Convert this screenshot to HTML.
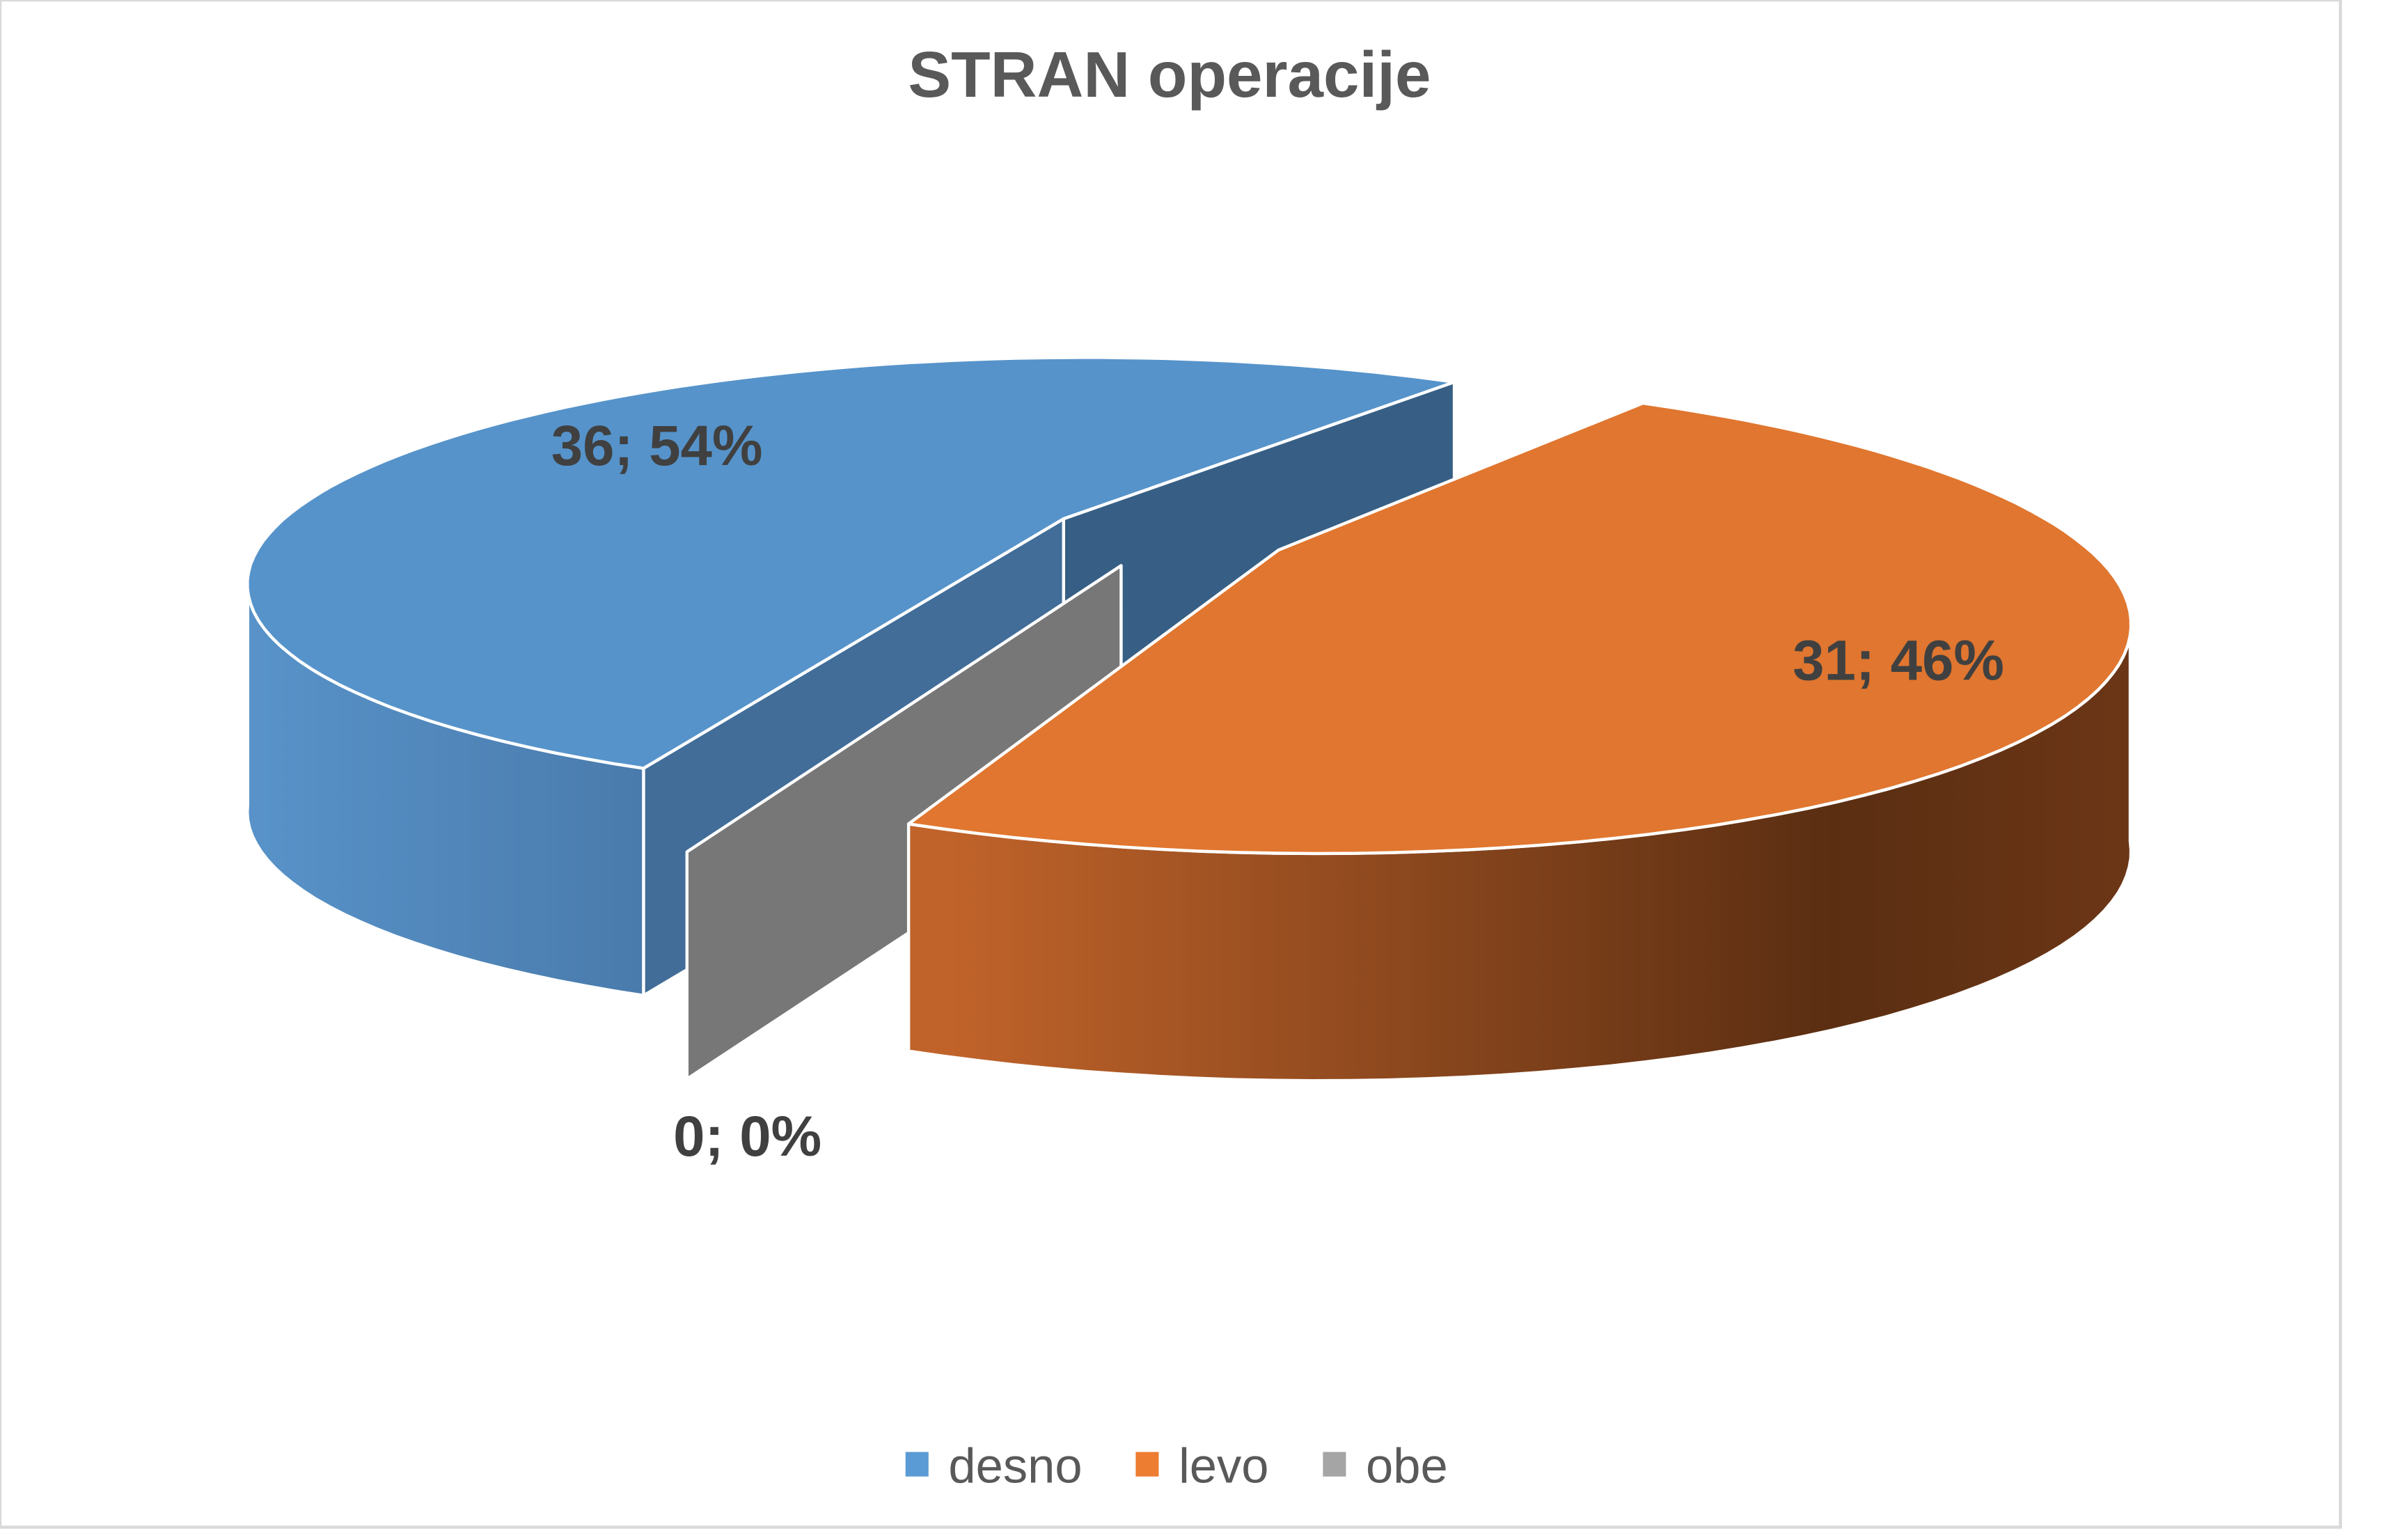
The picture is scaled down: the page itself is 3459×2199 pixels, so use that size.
<!DOCTYPE html>
<html><head><meta charset="utf-8"><style>
html,body{margin:0;padding:0;background:#fff;}
svg{display:block;}
text{font-family:"Liberation Sans",sans-serif;}
</style></head><body>
<svg id="chart" width="3459" height="2199" viewBox="0 0 1569 997.5" xmlns="http://www.w3.org/2000/svg">
<defs>
<linearGradient id="gBlue" gradientUnits="userSpaceOnUse" x1="160" y1="0" x2="460" y2="0">
<stop offset="0" stop-color="#5893c9"/><stop offset="1" stop-color="#4877a8"/></linearGradient>
<linearGradient id="gOrange" gradientUnits="userSpaceOnUse" x1="618" y1="0" x2="1385" y2="0">
<stop offset="0" stop-color="#c0632a"/><stop offset="0.75" stop-color="#5b2e12"/><stop offset="1" stop-color="#6b3616"/></linearGradient>
</defs>
<rect x="0" y="0" width="1525" height="995" fill="#fff" stroke="#d9d9d9" stroke-width="2"/>
<text x="762" y="63" text-anchor="middle" font-size="42" font-weight="bold" fill="#595959">STRAN operacije</text>
<g id="slices"></g>
<g id="labels"></g>
<g id="legend"></g>
</svg>
<script>
const categories = ['desno', 'levo', 'obe'];
const values = [36, 31, 0];
const valueLabels = ['36; 54%', '31; 46%', '0; 0%'];

const NS = 'http://www.w3.org/2000/svg';
const topColors = ['#5693ca', '#e0762f', '#a5a5a5'];
const wallFills = ['url(#gBlue)', 'url(#gOrange)', '#777'];
const legendColors = ['#5b9bd5', '#ed7d31', '#a5a5a5'];
// projection parameters
const cx0 = 761.6, cy0 = 348, rx = 518, ry = 138, persp = 0.268, explode = 0.154, depth = 148, startDeg = 112;
const rad = d => d * Math.PI / 180;
const total = values.reduce((a, b) => a + b, 0);
const frontLo = Math.asin(persp) * 180 / Math.PI, frontHi = 180 - frontLo;

function angleScale(v) { return v / total * 360; }
function project(u, v, dz) {
  const w = 1 - persp * v;
  return [cx0 + rx * u / w, cy0 + ry * v / w + (dz || 0)];
}
function offsetOf(mid) { return [explode * Math.cos(rad(mid)), explode * Math.sin(rad(mid))]; }
function pt(s, th, dz) { return project(s.off[0] + Math.cos(rad(th)), s.off[1] + Math.sin(rad(th)), dz); }
function apex(s, dz) { return project(s.off[0], s.off[1], dz); }
function poly(pts, fill, name) {
  const p = document.createElementNS(NS, 'polygon');
  p.setAttribute('points', pts.map(q => q[0].toFixed(1) + ',' + q[1].toFixed(1)).join(' '));
  p.setAttribute('fill', fill);
  p.setAttribute('stroke', '#fff');
  p.setAttribute('stroke-width', '2');
  p.setAttribute('stroke-linejoin', 'round');
  
  
  document.getElementById('slices').appendChild(p);
}
function arc(s, a, b, dz) {
  const out = []; const n = Math.max(2, Math.ceil(Math.abs(b - a) / 2));
  for (let i = 0; i <= n; i++) out.push(pt(s, a + (b - a) * i / n, dz));
  return out;
}

const slices = [];
let acc = startDeg;
values.forEach((v, i) => {
  const a0 = acc, a1 = acc + angleScale(v);
  acc = a1;
  slices.push({ i, a0, a1, off: offsetOf((a0 + a1) / 2) });
});
slices.forEach(s => { if (values[s.i] === 0) { s.a0 = s.a1 = startDeg + 360; s.off = offsetOf(startDeg); } });

function radialFace(s, th, color, name) {
  poly([apex(s, 0), pt(s, th, 0), pt(s, th, depth), apex(s, depth)], color, name);
}
function frontWall(s, name) {
  for (let k = 0; k <= 2; k++) {
    const lo = Math.max(s.a0, k * 360 + frontLo), hi = Math.min(s.a1, k * 360 + frontHi);
    if (hi > lo) {
      poly(arc(s, lo, hi, 0).concat(arc(s, hi, lo, depth)), wallFills[s.i], name);
    }
  }
}
function topFace(s, name) {
  poly([apex(s, 0)].concat(arc(s, s.a0, s.a1, 0)), topColors[s.i], name);
}

const b = slices[0], o = slices[1], g = slices[2];
radialFace(b, b.a1, '#375f85', 'desno-end-face');
radialFace(b, b.a0, '#416d98', 'desno-start-face');
frontWall(b, 'desno-side-wall');
topFace(b, 'desno-slice');
radialFace(g, g.a0, '#777777', 'obe-slice');
frontWall(o, 'levo-side-wall');
topFace(o, 'levo-slice');

// data labels
const labelPos = [[428, 303], [1237, 443], [487, 753]];
valueLabels.forEach((t, i) => {
  const el = document.createElementNS(NS, 'text');
  
  
  el.setAttribute('x', labelPos[i][0]);
  el.setAttribute('y', labelPos[i][1]);
  el.setAttribute('text-anchor', 'middle');
  el.setAttribute('font-size', '37');
  el.setAttribute('font-weight', 'bold');
  el.setAttribute('fill', '#404040');
  el.textContent = t;
  document.getElementById('labels').appendChild(el);
});

// legend
const legX = [590, 740, 862];
categories.forEach((c, i) => {
  const r = document.createElementNS(NS, 'rect');
  
  
  r.setAttribute('x', legX[i]); r.setAttribute('y', 946);
  r.setAttribute('width', 15); r.setAttribute('height', 16);
  r.setAttribute('fill', legendColors[i]);
  document.getElementById('legend').appendChild(r);
  const t = document.createElementNS(NS, 'text');
  
  
  t.setAttribute('x', legX[i] + 28); t.setAttribute('y', 966);
  t.setAttribute('font-size', '32');
  t.setAttribute('fill', '#595959');
  t.textContent = c;
  document.getElementById('legend').appendChild(t);
});
</script>
</body></html>
